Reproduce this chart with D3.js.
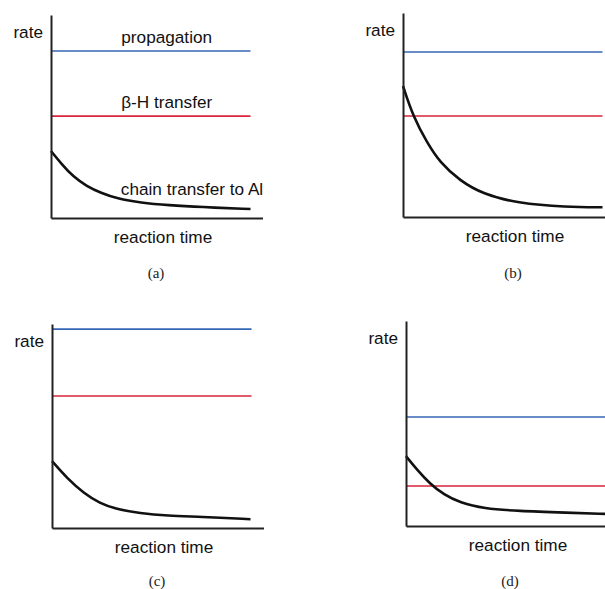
<!DOCTYPE html>
<html>
<head>
<meta charset="utf-8">
<script src="https://cdn.jsdelivr.net/npm/d3@7"></script>
<style>
  body { margin: 0; background: #fff; }
  svg { display: block; }
</style>
</head>
<body>
<svg id="svg" width="605" height="589"></svg>
<script>
// rate values are in % of the axis height, time runs 0..10
const panels = ["a", "b", "c", "d"];
const propagationRate = [82.3, 80.9, 97.5, 53.2];
const betaHRate = [50.2, 49.5, 64.7, 19.5];

const chainTime = [
    [0, 0.54, 1.1, 1.8, 2.5, 3.3, 4.5, 5.9, 7.5, 10],
    [0, 0.5, 1.2, 1.85, 2.85, 4, 5.7, 8.2, 10],
    [0, 0.75, 1.6, 2.4, 3.2, 4.4, 5.8, 7.4, 9.95],
    [0, 0.54, 1.2, 1.9, 2.7, 3.9, 5.6, 8.1, 10]
];
const chainRate = [
    [33, 26.5, 20.5, 15.6, 12.4, 9.6, 7.5, 6.3, 5.4, 4.4],
    [64.2, 49.5, 36.6, 26.8, 17.8, 11.3, 6.8, 4.8, 4.8],
    [32.8, 24.4, 17, 12.1, 9.3, 7.2, 6, 5.5, 4.3],
    [34.1, 27.6, 20.6, 15.3, 11.4, 8.5, 7.3, 6.5, 5.9]
];

const yLabel = "rate";
const xLabel = "reaction time";
const seriesNames = ["propagation", "β-H transfer", "chain transfer to Al"];

// panel placement: axis origin, axis height, how far the time axis runs
const layout = [
    { x0: 51, y0: 218, h: 203, tMax: 10.6, cap: 156, capY: 278 },
    { x0: 403, y0: 217, h: 204, tMax: 10.2, cap: 513, capY: 278 },
    { x0: 52, y0: 528, h: 204, tMax: 10.6, cap: 157, capY: 586 },
    { x0: 406, y0: 526, h: 205, tMax: 10.2, cap: 510, capY: 586 }
];

const svg = d3.select("#svg");
const sans = "Liberation Sans, Arial, Helvetica, sans-serif";
const fs = "17.2px";

panels.forEach((p, i) => {
    const L = layout[i];
    const x = d3.scaleLinear().domain([0, 10]).range([L.x0, L.x0 + 199.5]);
    const y = d3.scaleLinear().domain([0, 100]).range([L.y0, L.y0 - L.h]);
    const g = svg.append("g");

    // constant rates
    g.append("line")
        .attr("x1", x(0)).attr("x2", x(10))
        .attr("y1", y(propagationRate[i])).attr("y2", y(propagationRate[i]))
        .style("stroke", "#3466b4")
        .style("stroke-width", 1.6);
    g.append("line")
        .attr("x1", x(0)).attr("x2", x(10))
        .attr("y1", y(betaHRate[i])).attr("y2", y(betaHRate[i]))
        .style("stroke", "#d9243c")
        .style("stroke-width", 1.6);

    // chain transfer curve
    const pts = chainTime[i].map((t, k) => [t, chainRate[i][k]]);
    g.append("path")
        .datum(pts)
        .attr("d", d3.line().x(d => x(d[0])).y(d => y(d[1])).curve(d3.curveBasis))
        .style("fill", "none")
        .style("stroke", "#111")
        .style("stroke-width", 2.6);

    // axes: bare lines
    const xAxisScale = d3.scaleLinear().domain([0, L.tMax]).range([x(0), x(L.tMax)]);
    g.append("g")
        .attr("transform", "translate(0," + L.y0 + ")")
        .call(d3.axisBottom(xAxisScale).tickValues([]).tickSizeOuter(0))
        .select(".domain")
        .style("stroke", "#222")
        .style("stroke-width", 2);
    g.append("g")
        .attr("transform", "translate(" + L.x0 + ",0)")
        .call(d3.axisLeft(y).tickValues([]).tickSizeOuter(0))
        .select(".domain")
        .style("stroke", "#222")
        .style("stroke-width", 2);

    g.append("text")
        .attr("x", L.x0 - 8).attr("y", L.y0 - L.h + 23)
        .attr("text-anchor", "end")
        .style("font-family", sans).style("font-size", fs).style("fill", "#111")
        .text(yLabel);
    g.append("text")
        .attr("x", L.x0 + 112).attr("y", L.y0 + 25)
        .attr("text-anchor", "middle")
        .style("font-family", sans).style("font-size", fs).style("fill", "#111")
        .text(xLabel);
    g.append("text")
        .attr("x", L.cap).attr("y", L.capY)
        .attr("text-anchor", "middle")
        .style("font-family", "Liberation Serif, Times New Roman, serif")
        .style("font-size", "15px").style("fill", "#222")
        .text("(" + p + ")");

    if (i === 0) {
        g.append("text")
            .attr("x", x(5.8)).attr("y", y(propagationRate[i]) - 8)
            .attr("text-anchor", "middle")
            .style("font-family", sans).style("font-size", fs).style("fill", "#111")
            .text(seriesNames[0]);
        g.append("text")
            .attr("x", x(5.8)).attr("y", y(betaHRate[i]) - 8)
            .attr("text-anchor", "middle")
            .style("font-family", sans).style("font-size", fs).style("fill", "#111")
            .text(seriesNames[1]);
        g.append("text")
            .attr("x", x(3.5)).attr("y", y(chainRate[i][5]) - 4)
            .style("font-family", sans).style("font-size", fs).style("fill", "#111")
            .text(seriesNames[2]);
    }
});
</script>
</body>
</html>
